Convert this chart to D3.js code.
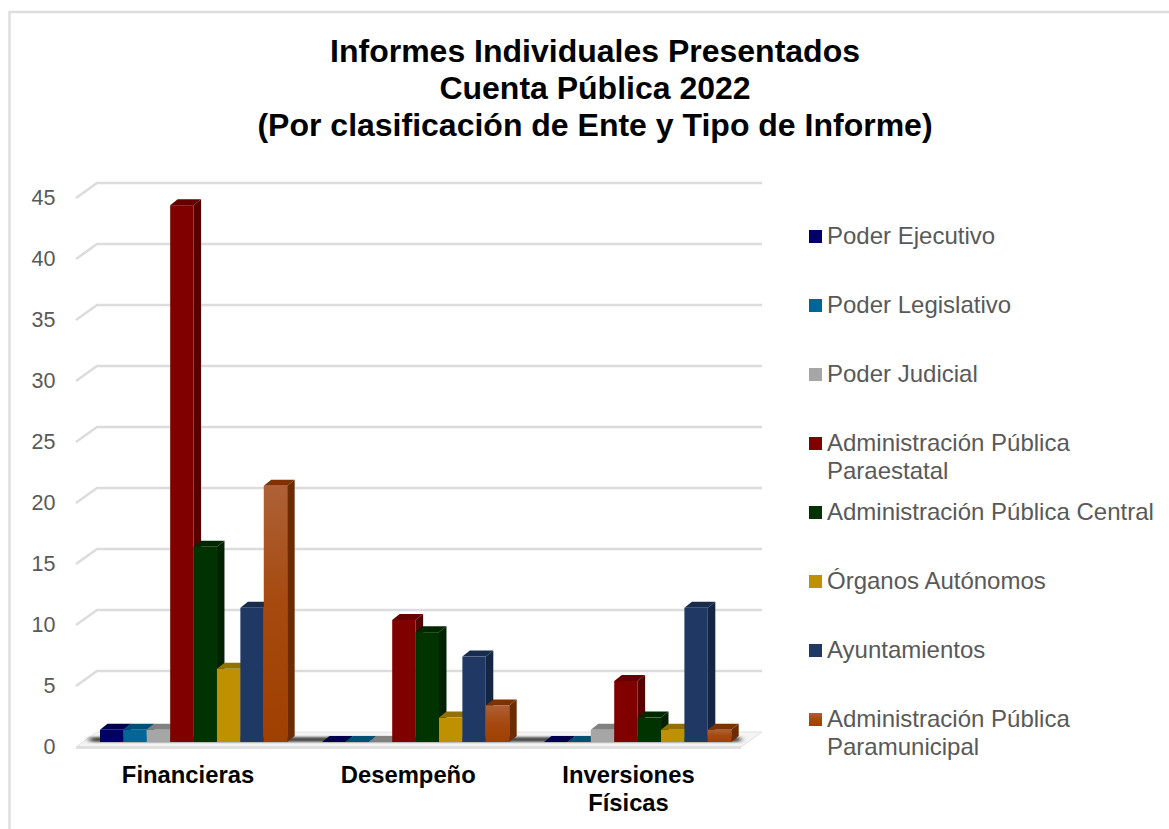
<!DOCTYPE html>
<html>
<head>
<meta charset="utf-8">
<script src="https://cdn.jsdelivr.net/npm/d3@7"></script>
<style>
  html, body { margin: 0; padding: 0; background: #fff; }
  text { font-family: "Liberation Sans", Arial, sans-serif; }
</style>
</head>
<body>
<script>
var titleLines = ["Informes Individuales Presentados", "Cuenta Pública 2022", "(Por clasificación de Ente y Tipo de Informe)"];
var categories = ["Financieras", "Desempeño", "Inversiones Físicas"];
var categoryLines = [["Financieras"], ["Desempeño"], ["Inversiones", "Físicas"]];
var yTicks = [0, 5, 10, 15, 20, 25, 30, 35, 40, 45];

var seriesNames = ["Poder Ejecutivo", "Poder Legislativo", "Poder Judicial", "Administración Pública Paraestatal",
  "Administración Pública Central", "Órganos Autónomos", "Ayuntamientos", "Administración Pública Paramunicipal"];
var legendLines = [["Poder Ejecutivo"], ["Poder Legislativo"], ["Poder Judicial"], ["Administración Pública", "Paraestatal"],
  ["Administración Pública Central"], ["Órganos Autónomos"], ["Ayuntamientos"], ["Administración Pública", "Paramunicipal"]];
var seriesColors = ["#000066", "#006699", "#a6a6a6", "#800000", "#003300", "#bf9000", "#1f3864", "#a04000"];

var poderEjecutivo = [1, 0, 0];
var poderLegislativo = [1, 0, 0];
var poderJudicial = [1, 0, 1];
var paraestatal = [44, 10, 5];
var central = [16, 9, 2];
var organos = [6, 2, 1];
var ayuntamientos = [11, 7, 11];
var paramunicipal = [21, 3, 1];
var seriesValues = [poderEjecutivo, poderLegislativo, poderJudicial, paraestatal, central, organos, ayuntamientos, paramunicipal];

var width = 1169, height = 829;

var svg = d3.select("body").append("svg")
    .attr("width", width)
    .attr("height", height)
    .style("display", "block");

var defs = svg.append("defs");

defs.append("filter").attr("id", "blur")
    .attr("x", "-20%").attr("y", "-200%").attr("width", "140%").attr("height", "500%")
    .append("feGaussianBlur").attr("stdDeviation", "3 1.2");

var orangeGrad = defs.append("linearGradient").attr("id", "orangeGrad")
    .attr("x1", 0).attr("y1", 0).attr("x2", 0).attr("y2", 1);
orangeGrad.append("stop").attr("offset", "0%").attr("stop-color", "#ad6136");
orangeGrad.append("stop").attr("offset", "45%").attr("stop-color", "#a64a10");
orangeGrad.append("stop").attr("offset", "100%").attr("stop-color", "#a04000");

// outer frame
svg.append("path")
    .attr("d", "M9.5,829V12H1169")
    .attr("fill", "none")
    .attr("stroke", "#dedede")
    .attr("stroke-width", 2.5);

// title
svg.append("text")
    .attr("text-anchor", "middle")
    .attr("font-size", 32)
    .attr("font-weight", "bold")
    .attr("fill", "#000")
    .selectAll("tspan")
    .data(titleLines)
    .enter().append("tspan")
    .attr("x", 595)
    .attr("y", function(d, i) { return 62 + i * 37; })
    .text(function(d) { return d; });

// scales, front face of the bars
var y = d3.scaleLinear().domain([0, 45]).range([742, 193]);
var x0 = d3.scaleBand().domain(categories).range([100, 731.2]).paddingInner(0.157).paddingOuter(0);
var x1 = d3.scaleBand().domain(seriesNames).range([0, x0.bandwidth()]);
var xLabel = d3.scalePoint().domain(categories).range([188, 628.5]);

var barDx = 7.5, barDy = 6;   // bar depth
var wallDx = 21, wallDy = 15; // floor depth
var wallFront = 76, wallRight = 762;

// walls and gridlines
var grid = svg.append("g");

grid.selectAll(".wall")
    .data(yTicks.filter(function(d) { return d > 0; }))
    .enter().append("path")
    .attr("class", "wall")
    .attr("fill", "none")
    .attr("stroke", "#dcdcdc")
    .attr("stroke-width", 2.5)
    .attr("d", function(d) {
      var yb = y(d) + 5 - wallDy;
      return "M" + wallFront + "," + (y(d) + 5) + "L" + (wallFront + wallDx) + "," + yb + "H" + wallRight;
    });

// floor
var floorY = y(0) + 5;
svg.append("path")
    .attr("d", "M" + wallFront + "," + floorY + "L" + (wallFront + wallDx) + "," + (floorY - wallDy) +
      "H" + wallRight + "L" + (wallRight - wallDx) + "," + floorY + "Z")
    .attr("fill", "#f4f4f4")
    .attr("stroke", "#e2e2e2")
    .attr("stroke-width", 1);
svg.append("rect")
    .attr("x", wallFront).attr("y", floorY - 1)
    .attr("width", wallRight - wallDx - wallFront).attr("height", 3)
    .attr("fill", "#e0e0e0");

// shadow strip under the bars
svg.append("rect")
    .attr("x", 90)
    .attr("y", y(0) - 5)
    .attr("width", 650)
    .attr("height", 5)
    .attr("fill", "#3c3c3c")
    .attr("opacity", 0.9)
    .attr("filter", "url(#blur)");

// bars
var groups = svg.selectAll(".group")
    .data(categories)
    .enter().append("g")
    .attr("class", "group")
    .attr("transform", function(d) { return "translate(" + x0(d) + ",0)"; });

groups.each(function(cat, ci) {
  var g = d3.select(this);
  seriesNames.forEach(function(name, si) {
    var v = seriesValues[si][ci];
    var color = seriesColors[si];
    var left = x1(name), w = x1.bandwidth();
    var top = y(v), base = y(0);

    if (v > 0) {
      g.append("path") // side
        .attr("d", "M" + (left + w) + "," + top + "l" + barDx + "," + (-barDy) + "V" + (base - barDy) + "l" + (-barDx) + "," + barDy + "Z")
        .attr("fill", d3.color(color).darker(1.1));
    }
    g.append("path") // top
      .attr("d", "M" + left + "," + top + "l" + barDx + "," + (-barDy) + "h" + w + "l" + (-barDx) + "," + barDy + "Z")
      .attr("fill", d3.color(color).darker(0.7));
    if (v > 0) {
      g.append("rect") // front
        .attr("x", left)
        .attr("y", top)
        .attr("width", w)
        .attr("height", base - top)
        .attr("fill", si === 7 ? "url(#orangeGrad)" : color);
    }
  });
});

// y axis labels
var yAxis = d3.axisLeft(y).tickValues(yTicks).tickSize(0).tickPadding(0);
svg.append("g")
    .attr("transform", "translate(55.5,5)")
    .call(yAxis)
    .call(function(g) { g.select(".domain").remove(); })
    .selectAll("text")
    .attr("font-family", "Liberation Sans")
    .attr("font-size", 21.5)
    .attr("fill", "#595959");

// category labels
svg.append("g").selectAll("text")
    .data(categories)
    .enter().append("text")
    .attr("text-anchor", "middle")
    .attr("font-size", 23.8)
    .attr("font-weight", "bold")
    .attr("fill", "#000")
    .each(function(d, i) {
      d3.select(this).selectAll("tspan")
        .data(categoryLines[i])
        .enter().append("tspan")
        .attr("x", xLabel(d))
        .attr("y", function(t, j) { return 783 + j * 28; })
        .text(function(t) { return t; });
    });

// legend
var legend = svg.append("g").attr("id", "legend");
var legendRow = legend.selectAll("g")
    .data(seriesNames)
    .enter().append("g")
    .attr("transform", function(d, i) { return "translate(809," + (230 + i * 69) + ")"; });

legendRow.append("rect")
    .attr("width", 13)
    .attr("height", 13)
    .attr("fill", function(d, i) { return i === 7 ? "url(#orangeGrad)" : seriesColors[i]; });

legendRow.append("text")
    .attr("font-size", 24)
    .attr("fill", "#595959")
    .each(function(d, i) {
      d3.select(this).selectAll("tspan")
        .data(legendLines[i])
        .enter().append("tspan")
        .attr("x", 18)
        .attr("y", function(t, j) { return 14 + j * 28; })
        .text(function(t) { return t; });
    });
</script>
</body>
</html>
